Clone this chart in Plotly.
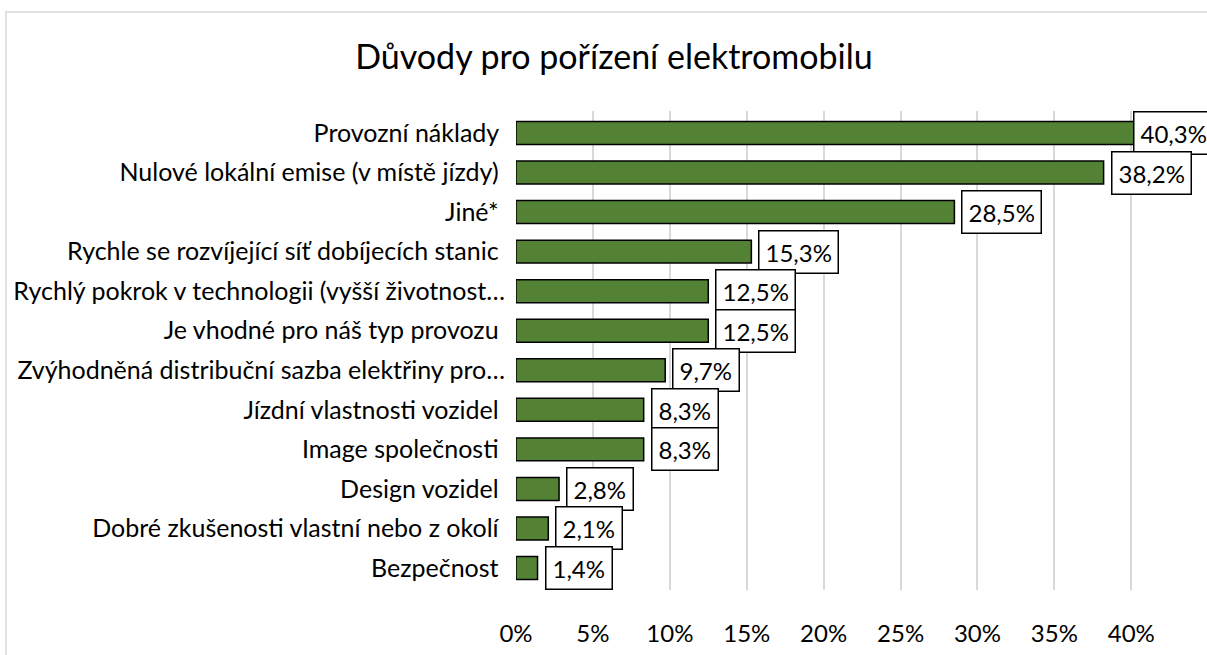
import plotly.graph_objects as go

categories = [
    "Provozní náklady\u00a0",
    "Nulové lokální emise (v místě jízdy)\u00a0",
    "Jiné*\u00a0",
    "Rychle se rozvíjející síť dobíjecích stanic\u00a0",
    "Rychlý pokrok v technologii (vyšší životnost…",
    "Je vhodné pro náš typ provozu\u00a0",
    "Zvýhodněná distribuční sazba elektřiny pro…",
    "Jízdní vlastnosti vozidel\u00a0",
    "Image společnosti\u00a0",
    "Design vozidel\u00a0",
    "Dobré zkušenosti vlastní nebo z okolí\u00a0",
    "Bezpečnost\u00a0",
]
values = [0.403, 0.382, 0.285, 0.153, 0.125, 0.125, 0.097, 0.083, 0.083, 0.028, 0.021, 0.014]
labels = ["40,3%", "38,2%", "28,5%", "15,3%", "12,5%", "12,5%", "9,7%", "8,3%", "8,3%", "2,8%", "2,1%", "1,4%"]
tick_vals = [0, 0.05, 0.10, 0.15, 0.20, 0.25, 0.30, 0.35, 0.40]
tick_text = ["0%", "5%", "10%", "15%", "20%", "25%", "30%", "35%", "40%"]
title_text = "Důvody pro pořízení elektromobilu"

FONT = "Lato, 'Open Sans', sans-serif"
W, H = 1207, 655
L, R, T, B = 516, 68, 111, 65
pw, ph = W - L - R, H - T - B
XMAX = 0.405

fig = go.Figure(go.Bar(
    x=values, y=categories, orientation="h",
    marker=dict(color="#548235", line=dict(color="#000000", width=1.5)),
    hoverinfo="skip",
))

annotations = []
for c, v, t in zip(categories, values, labels):
    annotations.append(dict(
        x=v, y=c, xref="x", yref="y", text=t, showarrow=False,
        xanchor="left", yanchor="middle", xshift=(-3 if v > 0.4 else 7),
        bgcolor="#ffffff", bordercolor="#000000", borderwidth=1.5, borderpad=6,
        font=dict(family=FONT, size=24, color="#000000"),
    ))

def px_x(p):
    return (p - L) / pw

def px_y(p):
    return (H - B - p) / ph

fig.update_layout(
    width=W, height=H,
    margin=dict(l=L, r=R, t=T, b=B, autoexpand=False),
    paper_bgcolor="#ffffff", plot_bgcolor="#ffffff",
    showlegend=False,
    bargap=0.42,
    font=dict(family=FONT, size=24, color="#000000"),
    title=dict(text=title_text, x=614 / W, xanchor="center", y=1 - 57 / H, yanchor="middle",
               font=dict(family=FONT, size=34, color="#000000")),
    xaxis=dict(range=[0, XMAX], tickvals=tick_vals, ticktext=tick_text, showgrid=True,
               gridcolor="#d9d9d9", gridwidth=1.5, zeroline=False, showline=False,
               ticks="", ticklabelstandoff=27, tickfont=dict(family=FONT, size=24, color="#000000")),
    yaxis=dict(autorange="reversed", showgrid=False, zeroline=False, showline=False,
               ticks="", ticklabelstandoff=10, tickfont=dict(family=FONT, size=25, color="#000000")),
    annotations=annotations,
    shapes=[dict(type="rect", xref="paper", yref="paper",
                 x0=px_x(6), x1=px_x(1230), y0=px_y(680), y1=px_y(12),
                 line=dict(color="#d9d9d9", width=1.5), fillcolor="rgba(0,0,0,0)", layer="below")],
)

fig.write_html("out.html", config={"displayModeBar": False},
               post_script="document.body.style.margin='0';document.body.style.overflow='hidden';")
